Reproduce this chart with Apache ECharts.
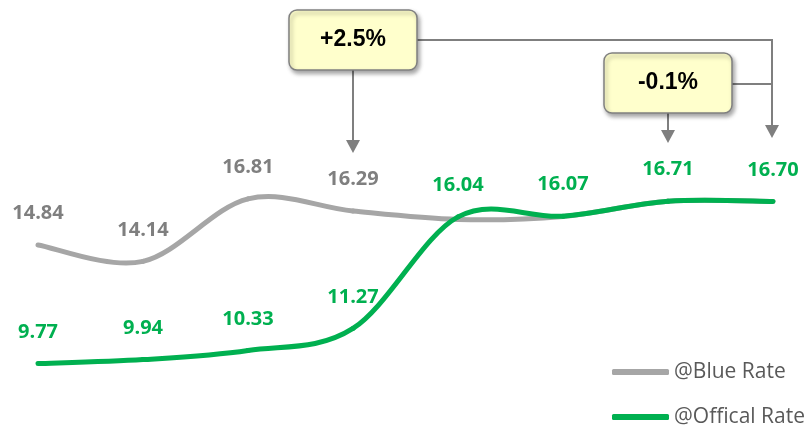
<!DOCTYPE html>
<html>
<head>
<meta charset="utf-8">
<script src="https://cdn.jsdelivr.net/npm/echarts@6/dist/echarts.min.js"></script>
<style>
html,body{margin:0;padding:0;background:#fff;}
#chart{width:809px;height:428px;}
</style>
</head>
<body>
<div id="chart"></div>
<script>
const categories = ["1", "2", "3", "4", "5", "6", "7", "8"];
const blueRate = [14.84, 14.14, 16.81, 16.29, 15.93, 16.06, 16.71, 16.70];
const officialRate = [9.77, 9.94, 10.33, 11.27, 16.04, 16.07, 16.71, 16.70];
const blueLabelCount = 4;
const seriesNames = ["@Blue Rate", "@Offical Rate"];
const annotationTexts = ["+2.5%", "-0.1%"];

const GRAY = '#a6a6a6', GRAY_TXT = '#7f7f7f', GREEN = '#00b050';
const CLEAR = 'rgba(0,0,0,0)';
const labelFont = { fontFamily: 'Open Sans', fontWeight: 'bold', fontSize: 20 };

// Excel-like (Catmull-Rom) smoothed segment, drawn through the chart's own scales
function smoothRenderer(values, color) {
  return function (params, api) {
    const i = params.dataIndex;
    const n = values.length;
    if (i >= n - 1) return null;
    const P = k => { const j = Math.max(0, Math.min(n - 1, k)); return api.coord([j, values[j]]); };
    const p0 = P(i - 1), p1 = P(i), p2 = P(i + 1), p3 = P(i + 2);
    const c1 = [p1[0] + (p2[0] - p0[0]) / 6, p1[1] + (p2[1] - p0[1]) / 6];
    const c2 = [p2[0] - (p3[0] - p1[0]) / 6, p2[1] - (p3[1] - p1[1]) / 6];
    return {
      type: 'bezierCurve',
      shape: { x1: p1[0], y1: p1[1], cpx1: c1[0], cpy1: c1[1], cpx2: c2[0], cpy2: c2[1], x2: p2[0], y2: p2[1] },
      style: { stroke: color, lineWidth: 5, lineCap: 'round', fill: null }
    };
  };
}

function legendFor(name, color, top) {
  return {
    orient: 'vertical', left: 612, top: top, padding: 0, itemWidth: 57, itemHeight: 6, itemGap: 6,
    icon: 'roundRect',
    textStyle: { fontFamily: 'Open Sans', fontSize: 21, lineHeight: 22, color: '#595959' },
    data: [{ name: name, itemStyle: { color: color } }]
  };
}

const chart = echarts.init(document.getElementById('chart'));
const option = {
  animation: false,
  backgroundColor: '#fff',
  grid: { left: 38, right: 36, top: 171, height: 234 },
  xAxis: { type: 'category', data: categories, boundaryGap: false, show: false },
  yAxis: { type: 'value', min: 8, max: 18, show: false, splitLine: { show: false } },
  legend: [
    legendFor(seriesNames[0], GRAY, 361),
    legendFor(seriesNames[1], GREEN, 406)
  ],
  series: [
    {
      type: 'custom', coordinateSystem: 'cartesian2d', silent: true, z: 2, clip: false,
      data: blueRate.map((v, i) => [i, v]),
      renderItem: smoothRenderer(blueRate, GRAY)
    },
    {
      type: 'custom', coordinateSystem: 'cartesian2d', silent: true, z: 3, clip: false,
      data: officialRate.map((v, i) => [i, v]),
      renderItem: smoothRenderer(officialRate, GREEN)
    },
    {
      name: seriesNames[0], type: 'line', z: 4,
      symbol: 'circle', symbolSize: 1, silent: true,
      itemStyle: { color: CLEAR },
      lineStyle: { color: CLEAR, width: 0 },
      data: blueRate.map((v, i) => ({ value: v, label: { show: i < blueLabelCount } })),
      label: Object.assign({ position: 'top', distance: 21, color: GRAY_TXT, formatter: p => p.value.toFixed(2) }, labelFont)
    },
    {
      name: seriesNames[1], type: 'line', z: 5,
      symbol: 'circle', symbolSize: 1, silent: true,
      itemStyle: { color: CLEAR },
      lineStyle: { color: CLEAR, width: 0 },
      data: officialRate,
      label: Object.assign({ show: true, position: 'top', distance: 21, color: GREEN, formatter: p => p.value.toFixed(2) }, labelFont)
    }
  ]
};
chart.setOption(option);

const x3 = chart.convertToPixel({ xAxisIndex: 0 }, categories[3]);
const x6 = chart.convertToPixel({ xAxisIndex: 0 }, categories[6]);
const x7 = chart.convertToPixel({ xAxisIndex: 0 }, categories[7]) - 1;
const LC = '#7f7f7f';
function box(cx, top, text) {
  return [
    { type: 'rect', shape: { x: cx - 64, y: top, width: 128, height: 60, r: 8 },
      style: { fill: '#ffffcc', stroke: '#808080', lineWidth: 1.5, shadowBlur: 4, shadowOffsetX: 2, shadowOffsetY: 3, shadowColor: 'rgba(0,0,0,0.35)' }, z: 10 },
    { type: 'text', x: cx, y: top + 30, style: { text: text, fill: '#000', font: 'bold 23px "Liberation Sans", Arial', align: 'center', verticalAlign: 'middle' }, z: 11 }
  ];
}
function arrow(x, y1, tip) {
  return [
    { type: 'line', shape: { x1: x, y1: y1, x2: x, y2: tip - 12 }, style: { stroke: LC, lineWidth: 2 }, z: 9 },
    { type: 'polygon', shape: { points: [[x - 7, tip - 13], [x + 7, tip - 13], [x, tip]] }, style: { fill: LC }, z: 9 }
  ];
}
const graphics = [].concat(
  [{ type: 'polyline', shape: { points: [[x3 + 64, 40], [x7, 40], [x7, 126]] }, style: { stroke: LC, lineWidth: 2, fill: null }, z: 9 }],
  [{ type: 'line', shape: { x1: x6 + 64, y1: 84, x2: x7, y2: 84 }, style: { stroke: LC, lineWidth: 2 }, z: 9 }],
  arrow(x3, 70, 153),
  arrow(x6, 113, 143),
  arrow(x7, 40, 138),
  box(x3, 10, annotationTexts[0]),
  box(x6, 53, annotationTexts[1])
);
chart.setOption({ graphic: graphics });
</script>
</body>
</html>
